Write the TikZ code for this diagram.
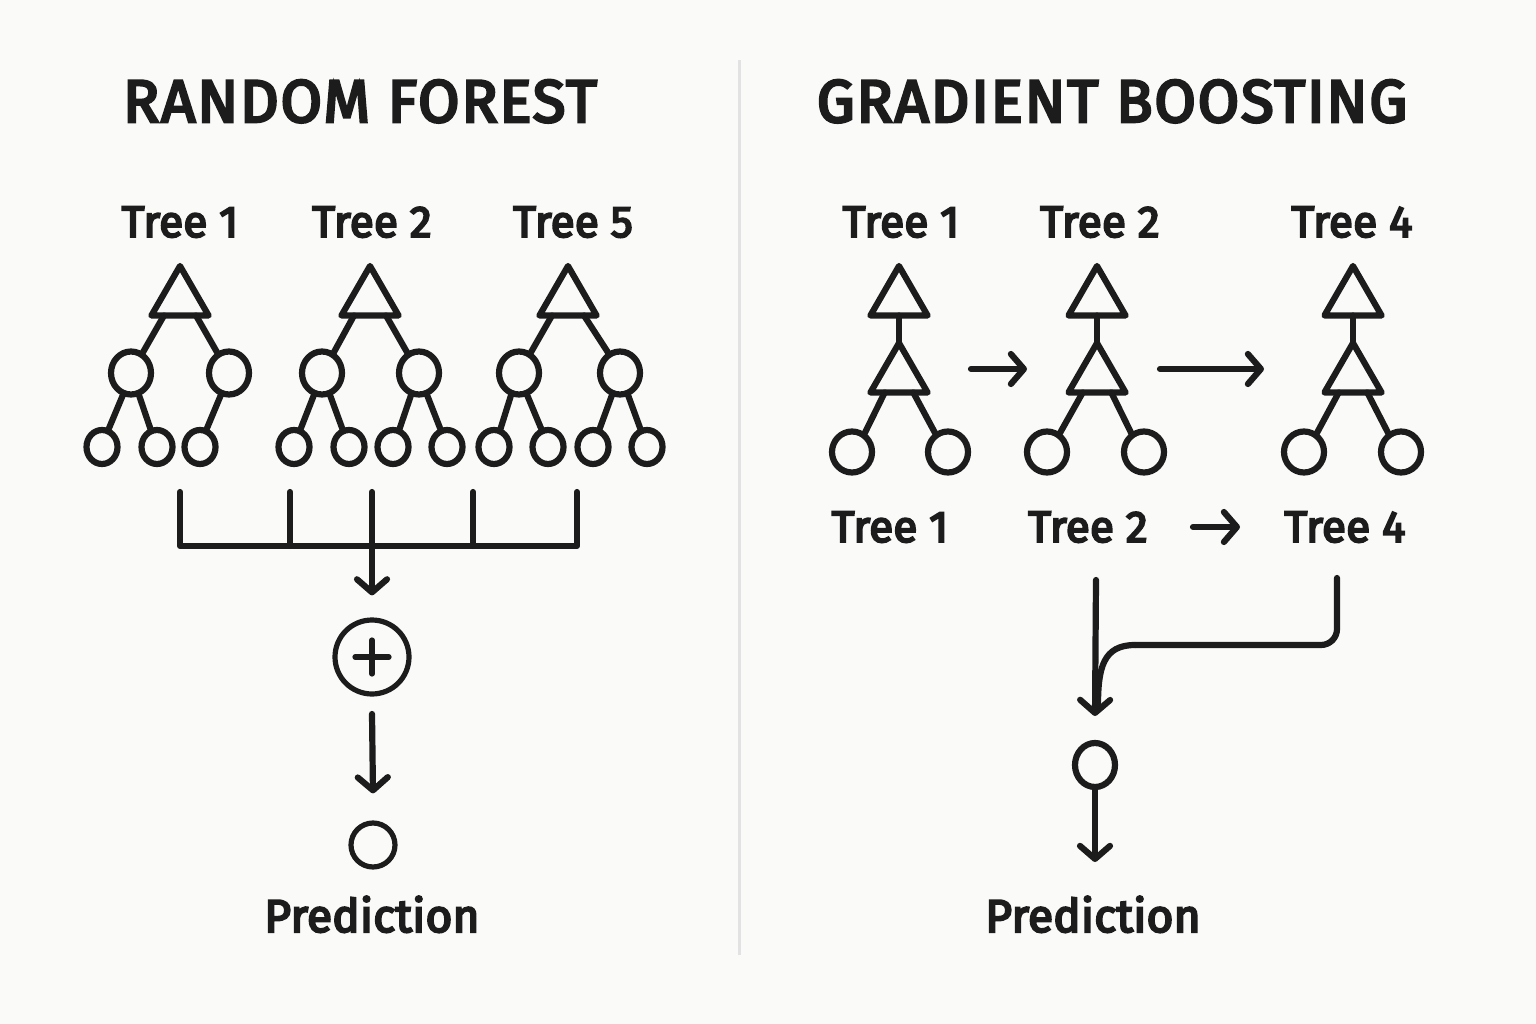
\documentclass[tikz,border=0pt]{standalone}
\usepackage{fontspec}
\setmainfont{Fira Sans}
\newfontfamily\ttlfont{Fira Sans}[FakeBold=4.5,LetterSpace=3]
\newfontfamily\labfont{Fira Sans}[FakeBold=4.5,LetterSpace=0.5]
\usetikzlibrary{arrows.meta,shapes.geometric,calc}
\definecolor{bg}{HTML}{FAFAF9}
\definecolor{ink}{HTML}{1C1C1C}
\definecolor{divc}{HTML}{E2E2E2}
\tikzset{
 ln/.style={draw=ink, line width=6.2pt, line cap=round, line join=round},
 arr/.style={ln, -{Straight Barb[length=13pt,width=30pt,line cap=round,line join=round]}},
 tri/.style={ln, regular polygon, regular polygon sides=3, minimum size=66pt, inner sep=0pt, outer sep=0pt},
 mid/.style={ln, ellipse, minimum width=40pt, minimum height=43pt, inner sep=0pt, outer sep=0pt},
 leaf/.style={ln, ellipse, minimum width=31pt, minimum height=34pt, inner sep=0pt, outer sep=0pt},
 rc/.style={ln, ellipse, minimum width=40pt, minimum height=41pt, inner sep=0pt, outer sep=0pt},
 ttl/.style={font=\fontsize{60}{60}\ttlfont, text=ink, inner sep=0pt, anchor=base},
 lab/.style={font=\fontsize{44}{44}\labfont, text=ink, inner sep=0pt, anchor=base},
 plab/.style={font=\fontsize{46}{46}\labfont, text=ink, inner sep=0pt, anchor=base},
}
\begin{document}
\begin{tikzpicture}[x=1pt,y=-1pt]
\fill[bg] (0,0) rectangle (1536,1024);
\useasboundingbox (0,0) rectangle (1536,1024);
% divider
\draw[divc, line width=3pt] (739,60) -- (739,955);

% ===== LEFT: RANDOM FOREST =====
\node[ttl] (t1) at (360,122) {RANDOM FOREST};
\node[lab] (ra) at (180,237) {Tree 1};
\node[lab] (rb) at (372,237) {Tree 2};
\node[lab] (rc) at (573,237) {Tree 5};

% tree 1
\node[tri] (a0) at (180,299) {};
\node[mid] (a1) at (131,373) {};
\node[mid] (a2) at (229,373) {};
\node[leaf] (a3) at (102,447) {};
\node[leaf] (a4) at (157,447) {};
\node[leaf] (a5) at (200,447) {};
\draw[ln] ($(a0.corner 2)!0.22!(a0.corner 3)$) -- (a1.60);
\draw[ln] ($(a0.corner 2)!0.78!(a0.corner 3)$) -- (a2.120);
\draw[ln] (a1.250) -- (a3.70);
\draw[ln] (a1.290) -- (a4.110);
\draw[ln] (a2.250) -- (a5.70);

% tree 2
\node[tri] (b0) at (370,299) {};
\node[mid] (b1) at (322,373) {};
\node[mid] (b2) at (419,373) {};
\node[leaf] (b3) at (294,447) {};
\node[leaf] (b4) at (349,447) {};
\node[leaf] (b5) at (393,447) {};
\node[leaf] (b6) at (447,447) {};
\draw[ln] ($(b0.corner 2)!0.22!(b0.corner 3)$) -- (b1.60);
\draw[ln] ($(b0.corner 2)!0.78!(b0.corner 3)$) -- (b2.120);
\draw[ln] (b1.250) -- (b3.70);
\draw[ln] (b1.290) -- (b4.110);
\draw[ln] (b2.250) -- (b5.70);
\draw[ln] (b2.290) -- (b6.110);

% tree 5
\node[tri] (c0) at (568,299) {};
\node[mid] (c1) at (519,373) {};
\node[mid] (c2) at (620,373) {};
\node[leaf] (c3) at (494,447) {};
\node[leaf] (c4) at (548,447) {};
\node[leaf] (c5) at (593,447) {};
\node[leaf] (c6) at (647,447) {};
\draw[ln] ($(c0.corner 2)!0.22!(c0.corner 3)$) -- (c1.60);
\draw[ln] ($(c0.corner 2)!0.78!(c0.corner 3)$) -- (c2.120);
\draw[ln] (c1.250) -- (c3.70);
\draw[ln] (c1.290) -- (c4.110);
\draw[ln] (c2.250) -- (c5.70);
\draw[ln] (c2.290) -- (c6.110);

% bracket
\coordinate (k1) at (180,492);
\coordinate (k2) at (290,492);
\coordinate (k3) at (372,492);
\coordinate (k4) at (473,492);
\coordinate (k5) at (577,492);
\coordinate (kb) at (372,546);
\draw[ln] (k1) -- (k1 |- kb) -- (k5 |- kb) -- (k5);
\draw[ln] (k2) -- (k2 |- kb);
\draw[ln] (k4) -- (k4 |- kb);
\draw[ln] (k3) -- (kb);

\node[ln, circle, minimum size=74pt, inner sep=0pt, line width=5.2pt] (sum) at (372,657) {};
\draw[ln, line width=5.2pt] ($(sum.center)+(-17,0)$) -- ($(sum.center)+(17,0)$);
\draw[ln, line width=5.2pt] ($(sum.center)+(0,-17)$) -- ($(sum.center)+(0,17)$);
\draw[arr] (kb) -- ($(sum.north)+(0,-22)$);
\coordinate (s2) at (372,714);
\node[ln, circle, minimum size=44pt, inner sep=0pt, line width=5.2pt] (pl) at (373,845) {};
\draw[arr] (s2) -- ($(pl.north)+(0,-27)$);
\node[plab] (pla) at (372,932) {Prediction};

% ===== RIGHT: GRADIENT BOOSTING =====
\node[ttl] (t2) at (1112,122) {GRADIENT BOOSTING};
\node[lab] (ga) at (901,237) {Tree 1};
\node[lab] (gb) at (1100,237) {Tree 2};
\node[lab] (gc) at (1352,237) {Tree 4};

% tree 1
\node[tri] (d0) at (899,299) {};
\node[tri] (d1) at (899,376) {};
\node[rc] (d2) at (852,452) {};
\node[rc] (d3) at (948,452) {};
\draw[ln] ($(d0.corner 2)!0.5!(d0.corner 3)$) -- (d1.corner 1);
\draw[ln] ($(d1.corner 2)!0.25!(d1.corner 3)$) -- (d2.55);
\draw[ln] ($(d1.corner 2)!0.75!(d1.corner 3)$) -- (d3.125);
% tree 2
\node[tri] (e0) at (1097,299) {};
\node[tri] (e1) at (1097,376) {};
\node[rc] (e2) at (1047,452) {};
\node[rc] (e3) at (1144,452) {};
\draw[ln] ($(e0.corner 2)!0.5!(e0.corner 3)$) -- (e1.corner 1);
\draw[ln] ($(e1.corner 2)!0.25!(e1.corner 3)$) -- (e2.55);
\draw[ln] ($(e1.corner 2)!0.75!(e1.corner 3)$) -- (e3.125);
% tree 4
\node[tri] (f0) at (1353,299) {};
\node[tri] (f1) at (1353,376) {};
\node[rc] (f2) at (1304,452) {};
\node[rc] (f3) at (1401,452) {};
\draw[ln] ($(f0.corner 2)!0.5!(f0.corner 3)$) -- (f1.corner 1);
\draw[ln] ($(f1.corner 2)!0.25!(f1.corner 3)$) -- (f2.55);
\draw[ln] ($(f1.corner 2)!0.75!(f1.corner 3)$) -- (f3.125);

\coordinate (m1) at (971,369);
\coordinate (m2) at (1027,369);
\coordinate (m3) at (1160,369);
\coordinate (m4) at (1264,369);
\draw[arr] (m1) -- (m2);
\draw[arr] (m3) -- (m4);

% second labels
\node[lab] (ha) at (890,542) {Tree 1};
\node[lab] (hb) at (1088,542) {Tree 2};
\node[lab] (hc) at (1345,542) {Tree 4};
\coordinate (n1) at (1193,527);
\coordinate (n2) at (1240,527);
\draw[arr] (n1) -- (n2);

% merge
\coordinate (p1) at (1096,580);
\coordinate (p2) at (1337,578);
\node[rc, minimum width=40pt, minimum height=44pt] (pc) at (1095,765) {};
\draw[arr] (p1) -- ($(pc.north)+(0,-27)$);
\draw[ln, rounded corners=16pt] (p2) -- (1337,645) -- (1135,645);
\draw[ln] (1135,645) .. controls (1103,645) and (1098,668) .. (1098,706);
\coordinate (q2) at (1095,862);
\draw[arr] (pc.south) -- (q2);
\node[plab] (plb) at (1093,932) {Prediction};
\end{tikzpicture}
\end{document}
